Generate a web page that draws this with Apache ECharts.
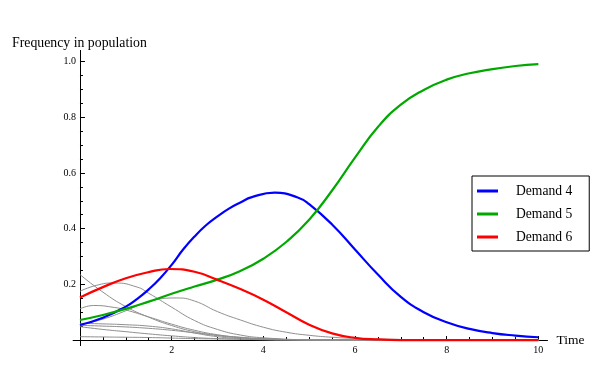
<!DOCTYPE html>
<html>
<head>
<meta charset="utf-8">
<script src="https://cdn.jsdelivr.net/npm/echarts@6/dist/echarts.min.js"></script>
<style>html,body{margin:0;padding:0;background:#fff;}#c{width:600px;height:368px;}</style>
</head>
<body>
<div id="c"></div>
<script>
// common time samples
const times = [0,0.5,1,1.5,2,2.5,3,3.5,4,4.5,5,5.5,6,6.5,7,7.5,8,8.5,9,9.5,10];
// Demand 4 (blue)
const timesD4 = [0,0.5,1,1.25,1.5,1.75,2,2.25,2.5,2.75,3,3.25,3.5,3.75,4.25,4.75,5,5.5,6,6.5,7,7.5,8,8.5,9,9.5,10];
const demand4 = [0.054,0.080,0.120,0.148,0.182,0.222,0.270,0.325,0.372,0.412,0.444,0.472,0.494,0.513,0.529,0.512,0.488,0.415,0.325,0.235,0.155,0.100,0.064,0.040,0.025,0.016,0.010];
// Demand 5 (green)
const demand5 = [0.072,0.090,0.112,0.138,0.166,0.192,0.217,0.248,0.292,0.352,0.432,0.537,0.655,0.765,0.845,0.898,0.935,0.958,0.973,0.984,0.991];
// Demand 6 (red)
const timesD6 = [0,0.5,1,1.5,1.95,2.5,3,3.5,4,4.5,5,5.5,6,6.5,7,10];
const demand6 = [0.153,0.190,0.222,0.244,0.255,0.245,0.216,0.183,0.145,0.100,0.055,0.024,0.008,0.002,0,0];
// other demands (gray)
const timesA = [0,0.5,1,1.5,2,2.5,3,3.5,4,5,6,10];
const grayA  = [0.235,0.172,0.120,0.082,0.052,0.030,0.016,0.008,0.004,0.001,0,0];
const timesB = [0,0.35,0.75,1.25,1.5,2,2.5,3,3.5,4,5,6,10];
const grayB  = [0.175,0.196,0.205,0.190,0.168,0.118,0.070,0.038,0.018,0.008,0.001,0,0];
const timesC = [0,0.3,0.75,1,1.5,2,2.5,3,3.5,4,5,6,10];
const grayC  = [0.112,0.124,0.117,0.108,0.083,0.057,0.035,0.019,0.009,0.004,0.001,0,0];
const timesD = [0,0.5,1,1.5,2.1,2.5,3,3.5,4,4.5,5,5.5,6,7,8,10];
const grayD  = [0.055,0.075,0.105,0.138,0.151,0.140,0.102,0.072,0.046,0.028,0.017,0.010,0.006,0.002,0,0];
const timesE = [0,0.5,1,1.5,2,2.5,3,3.5,4,4.5,5,6,10];
const grayE  = [0.053,0.050,0.047,0.042,0.035,0.026,0.017,0.010,0.005,0.002,0.001,0,0];
const timesF = [0,0.5,1,1.5,2,2.5,3,3.5,4,4.5,10];
const grayF  = [0.048,0.038,0.030,0.022,0.015,0.009,0.005,0.003,0.001,0,0];
const timesG = [0,0.5,1,1.5,2,2.5,3,3.5,4,4.5,5,10];
const grayG  = [0.060,0.058,0.055,0.050,0.040,0.025,0.012,0.005,0.002,0.001,0,0];
const timesH = [0,0.5,1,1.5,2,2.5,3,3.5,4,4.5,5,5.5,10];
const grayH  = [0.012,0.011,0.010,0.009,0.007,0.005,0.004,0.003,0.002,0.001,0.001,0,0];
const grayNames = ['Demand 1','Demand 2','Demand 3','Demand 7','Demand 8','Demand 9','Demand 10','Demand 11'];
// ticks
const xMajorTicks = [2,4,6,8,10];
const xMinorTicks = [0.5,1,1.5,2.5,3,3.5,4.5,5,5.5,6.5,7,7.5,8.5,9,9.5];
const yMajorTicks = [0.2,0.4,0.6,0.8,1.0];
const yMinorTicks = [0.05,0.1,0.15,0.25,0.3,0.35,0.45,0.5,0.55,0.65,0.7,0.75,0.85,0.9,0.95];

const serif = 'Liberation Serif';
const pairs = (ts, ys) => ts.map((t,i)=>[t, ys[i]]);
const grayPairs = [pairs(timesA,grayA),pairs(timesB,grayB),pairs(timesC,grayC),pairs(timesD,grayD),
                   pairs(timesE,grayE),pairs(timesF,grayF),pairs(timesG,grayG),pairs(timesH,grayH)];

const series = [];
grayPairs.forEach((d,i)=>{
  series.push({name: grayNames[i], type:'line', data: d, showSymbol:false, smooth:0.5,
    lineStyle:{color:'#8f8f8f', width:1}, itemStyle:{color:'#8f8f8f'}, silent:true, z:2});
});
[['Demand 4',pairs(timesD4,demand4),'#0000ff'],['Demand 5',pairs(times,demand5),'#00a800'],['Demand 6',pairs(timesD6,demand6),'#ff0000']].forEach(([n,d,c])=>{
  series.push({name:n, type:'line', data: d, showSymbol:false, smooth:0.5,
    lineStyle:{color:c, width:2.2}, itemStyle:{color:c}, z:3});
});

const chart = echarts.init(document.getElementById('c'), null, {renderer:'canvas'});
chart.setOption({
  animation:false,
  backgroundColor:'#fff',
  title:{text:'Frequency in population', left:7, top:31, textStyle:{fontFamily:serif, fontSize:13.8, fontWeight:'normal', color:'#000'}},
  grid:{left:73.1, right:52.5, top:50.4, bottom:22.4, containLabel:false},
  legend:{data:['Demand 4','Demand 5','Demand 6'], orient:'vertical', left:472, top:176,
    padding:[8,17,7,5], itemGap:9, itemWidth:21, itemHeight:3, icon:'rect', selectedMode:false,
    borderColor:'#000', borderWidth:1, backgroundColor:'#fff',
    textStyle:{fontFamily:serif, fontSize:13.6, color:'#000', padding:[0,0,0,13]}},
  xAxis:[
    {type:'value', min:-0.15, max:10.2, name:'Time', nameLocation:'end', nameGap:9,
      nameTextStyle:{fontFamily:serif, fontSize:13.5, color:'#000', verticalAlign:'middle'},
      axisLine:{show:true, onZero:true, onZeroAxisIndex:0, lineStyle:{color:'#000', width:1}},
      axisTick:{show:true, inside:true, length:4, customValues:xMajorTicks, lineStyle:{color:'#000'}},
      axisLabel:{show:true, customValues:xMajorTicks, margin:0, fontFamily:serif, fontSize:10, color:'#000'},
      splitLine:{show:false}},
    {type:'value', min:-0.15, max:10.2, position:'bottom',
      axisLine:{show:false, onZero:true, onZeroAxisIndex:0},
      axisTick:{show:true, inside:true, length:3, customValues:xMinorTicks, lineStyle:{color:'#000'}},
      axisLabel:{show:false}, splitLine:{show:false}}
  ],
  yAxis:[
    {type:'value', min:-0.02, max:1.04,
      axisLine:{show:true, onZero:true, onZeroAxisIndex:0, lineStyle:{color:'#000', width:1}},
      axisTick:{show:true, inside:true, length:5, customValues:yMajorTicks, lineStyle:{color:'#000'}},
      axisLabel:{show:true, customValues:yMajorTicks, margin:-3, fontFamily:serif, fontSize:10, color:'#000',
        formatter: v => v.toFixed(1)},
      splitLine:{show:false}},
    {type:'value', min:-0.02, max:1.04, position:'left',
      axisLine:{show:false, onZero:true, onZeroAxisIndex:0},
      axisTick:{show:true, inside:true, length:3, customValues:yMinorTicks, lineStyle:{color:'#000'}},
      axisLabel:{show:false}, splitLine:{show:false}}
  ],
  series: series
});
</script>
</body>
</html>
